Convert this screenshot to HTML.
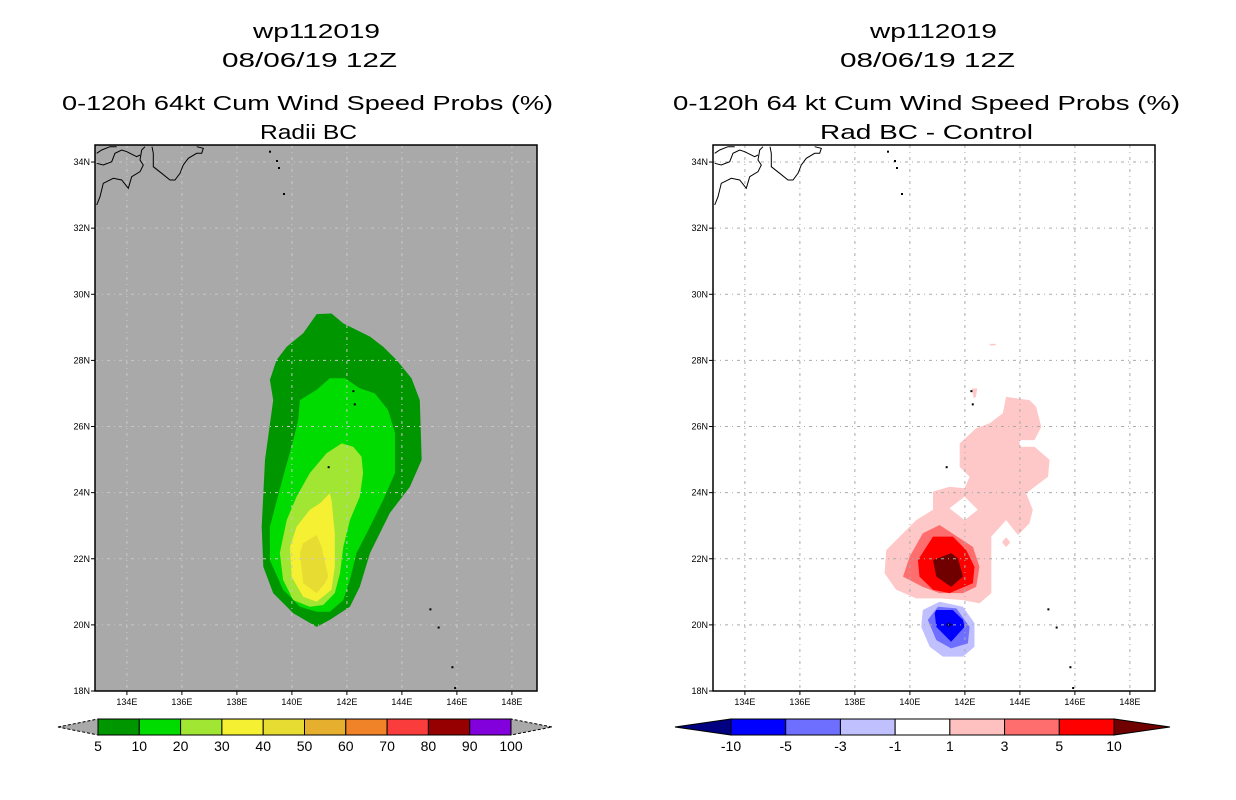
<!DOCTYPE html>
<html><head><meta charset="utf-8"><style>
html,body{margin:0;padding:0;background:#fff;}
svg{display:block;font-family:"Liberation Sans",sans-serif;}
</style></head><body>
<svg id="svg" width="1236" height="800" viewBox="0 0 1236 800" xmlns="http://www.w3.org/2000/svg">
<g font-size="20" fill="#000" text-anchor="start">
<text x="253" y="38" textLength="127" lengthAdjust="spacingAndGlyphs">wp112019</text>
<text x="222" y="67" textLength="175" lengthAdjust="spacingAndGlyphs">08/06/19 12Z</text>
<text x="62" y="110" textLength="491" lengthAdjust="spacingAndGlyphs">0-120h 64kt Cum Wind Speed Probs (%)</text>
<text x="260" y="139" textLength="97" lengthAdjust="spacingAndGlyphs">Radii BC</text>
</g>
<g font-size="20" fill="#000">
<text x="870" y="38" textLength="127" lengthAdjust="spacingAndGlyphs">wp112019</text>
<text x="840" y="67" textLength="175" lengthAdjust="spacingAndGlyphs">08/06/19 12Z</text>
<text x="673" y="110" textLength="507" lengthAdjust="spacingAndGlyphs">0-120h 64 kt Cum Wind Speed Probs (%)</text>
<text x="820" y="139" textLength="213" lengthAdjust="spacingAndGlyphs">Rad BC - Control</text>
</g>
<g id="left"></g>
<g id="right"></g>
<g id="cbl"></g>
<g id="cbr"></g>
</svg>
<script>
// ---- data ----
const lonTicks = [134,136,138,140,142,144,146,148];
const latTicks = [18,20,22,24,26,28,30,32,34];
// left: cumulative probability contours (lon,lat)
const probLevels = [5,10,20,30,40];
const probColors = ["#009600","#00dc00","#a0e632","#f5f032","#e6dc32"];
const prob5 = [[140.90,29.40],[141.44,29.42],[141.87,29.12],[142.84,28.72],[143.32,28.41],[143.81,28.01],[144.35,27.46],[144.65,26.80],[144.72,24.99],[144.29,24.18],[143.56,23.38],[142.84,22.17],[142.47,21.15],[142.11,20.55],[141.38,20.15],[140.90,19.94],[140.05,20.35],[139.32,20.96],[138.96,21.76],[138.90,22.97],[139.02,24.99],[139.32,26.80],[139.20,27.41],[139.44,28.01],[139.81,28.41],[140.41,28.82]];
const prob10 = [[141.38,27.46],[141.93,27.46],[142.47,27.16],[143.02,27.00],[143.50,26.50],[143.75,25.80],[143.75,24.59],[143.32,23.78],[142.84,22.97],[142.35,22.17],[142.11,21.36],[141.87,20.75],[141.38,20.40],[140.90,20.40],[140.29,20.55],[139.68,21.06],[139.20,21.96],[139.20,22.97],[139.68,24.48],[140.05,25.59],[140.23,26.20],[140.29,26.80],[140.90,27.11]];
const prob20 = [[141.81,25.49],[142.23,25.39],[142.53,25.09],[142.59,24.59],[142.47,23.88],[142.11,23.17],[141.87,22.36],[141.75,21.56],[141.56,20.96],[141.14,20.60],[140.65,20.55],[140.05,20.75],[139.68,21.36],[139.56,22.17],[139.81,23.17],[140.17,23.88],[140.65,24.59],[141.26,25.19]];
const prob30 = [[141.38,23.98],[141.44,23.78],[141.56,22.77],[141.56,21.76],[141.44,21.06],[140.90,20.70],[140.41,20.85],[139.99,21.46],[139.93,22.36],[140.17,22.97],[140.65,23.48],[141.02,23.68]];
const prob40 = [[140.90,22.72],[141.08,22.36],[141.32,21.46],[141.20,21.26],[140.90,20.96],[140.41,21.26],[140.29,22.17],[140.41,22.47]];
// right: difference contours
const diffPink = [[143.50,26.90],[144.35,26.80],[144.59,26.60],[144.78,25.99],[144.53,25.59],[143.99,25.59],[143.99,25.39],[144.53,25.39],[145.08,24.99],[145.02,24.48],[144.23,23.98],[144.47,23.48],[144.35,23.07],[143.93,22.72],[143.50,23.17],[142.96,22.67],[142.96,20.96],[142.53,20.65],[141.93,20.75],[141.08,20.80],[140.23,20.80],[139.50,21.06],[139.08,21.56],[139.14,22.26],[139.63,22.67],[140.23,23.17],[140.84,23.48],[140.84,24.03],[141.44,24.18],[141.99,24.13],[142.17,24.48],[141.81,24.78],[141.81,25.49],[142.41,25.95],[142.90,26.10],[143.38,26.40]];
const diffHole = [[141.99,23.88],[142.47,23.48],[141.99,23.17],[141.44,23.53]];
const diffPinkBlob1 = [[142.25,27.15],[142.45,27.15],[142.4,26.9],[142.32,26.85]];
const diffPinkBlob2 = [[143.5,22.65],[143.65,22.5],[143.5,22.35],[143.35,22.5]];
const diffRed3 = [[141.08,23.02],[142.29,22.36],[142.53,21.76],[142.41,21.15],[141.93,20.96],[141.08,20.96],[140.47,21.15],[139.75,21.46],[139.99,22.06],[140.47,22.77]];
const diffRed5 = [[140.84,22.67],[141.56,22.67],[142.05,22.26],[142.35,21.76],[142.29,21.26],[141.44,20.96],[140.84,21.06],[140.35,21.46],[140.29,21.96]];
const diffRed10 = [[140.84,21.96],[141.50,22.17],[141.75,22.01],[141.93,21.46],[141.50,21.15],[140.96,21.46]];
const diffBlue1 = [[141.08,20.70],[141.93,20.55],[142.35,20.05],[142.35,19.34],[141.93,19.04],[141.20,19.04],[140.72,19.34],[140.41,19.94],[140.47,20.45]];
const diffBlue3 = [[141.02,20.55],[141.69,20.50],[142.17,19.94],[142.11,19.44],[141.50,19.29],[140.96,19.54],[140.65,20.15]];
const diffBlue5 = [[140.96,20.45],[141.56,20.45],[141.93,20.15],[141.99,19.94],[141.50,19.49],[140.96,19.94],[140.90,20.35]];
const diffBlue10 = [[141.40,20.08],[141.55,20.0],[141.40,19.92],[141.30,20.0]];
const islands = [[142.2,27.1],[142.25,26.7],[141.3,24.8],[145.0,20.5],[145.3,19.95],[145.8,18.75],[145.9,18.12]];
const leftCbLabels = ["5","10","20","30","40","50","60","70","80","90","100"];
const leftCbColors = ["#009600","#00dc00","#a0e632","#f5f032","#e6dc32","#e6af2d","#f08228","#fa3c3c","#960000","#8200dc"];
const rightCbLabels = ["-10","-5","-3","-1","1","3","5","10"];
const rightCbColors = ["#0000ff","#6e6eff","#c0c0ff","#ffffff","#ffc0c0","#ff6e6e","#ff0000"];

// ---- geometry ----
const NS="http://www.w3.org/2000/svg";
const W=442,H=546;
function xs(lon){return (lon-132.84)*27.5;}
function ys(lat){return H-(lat-18)*33.06;}
function mk(tag,attrs,parent){const e=document.createElementNS(NS,tag);for(const k in attrs)e.setAttribute(k,attrs[k]);parent.appendChild(e);return e;}
function poly(pts,fill,parent,name){
  const e=mk('polygon',{points:pts.map(p=>xs(p[0]).toFixed(1)+','+ys(p[1]).toFixed(1)).join(' '),fill:fill},parent);
  
  
  return e;
}
const coast=["M1.7,60 L5,51.7 L8.3,38.3 L18.3,33.3 L26.7,35 L33.3,43.3 L36.7,31.7 L45,26.7 L48.3,20 L45,15 L46.7,5 L50,1.7",
"M1.7,18.3 L8.3,20 L16.7,16.7 L20,8.3 L26.7,5 L31.7,6.7 L41.7,11.7 L45,10",
"M57,1.7 L58.3,8.3 L58.3,21.7 L66.7,28.3 L75,35 L80,35 L85,28.3 L88.3,20 L93.3,13.3 L101.7,8.3 L106.7,8.3 L108.3,3.3 L101.7,1.7",
"M1.7,8.3 L6.7,5 L15,1.7 L21.7,1.7"];
const coastDots=[[174,5.7],[181,15],[183,22],[188,48]];

function panel(gid,ox,oy,bg,gridColor,fills){
  const g0=document.getElementById(gid);
  const g=mk('g',{transform:`translate(${ox},${oy})`},g0);
  const bgr=mk('rect',{x:0,y:0,width:W,height:H,fill:bg},g);
  
  
  const cg=mk('g',{},g);
  
  
  fills(cg);
  const gg=mk('g',{stroke:gridColor,'stroke-width':1,'stroke-dasharray':'3,4,1,4'},g);
  
  
  lonTicks.forEach(l=>{const x=xs(l);mk('line',{x1:x,y1:0,x2:x,y2:H},gg);});
  latTicks.forEach(l=>{const y=ys(l);if(y>0&&y<H)mk('line',{x1:0,y1:y,x2:W,y2:y},gg);});
  const cs=mk('g',{stroke:'#000','stroke-width':1,fill:'none'},g);
  
  
  coast.forEach(d=>mk('path',{d:d},cs));
  coastDots.forEach(p=>mk('rect',{x:p[0],y:p[1],width:2,height:2,fill:'#000',stroke:'none'},cs));
  islands.forEach(p=>mk('rect',{x:xs(p[0]),y:ys(p[1]),width:2,height:2,fill:'#000',stroke:'none'},cs));
  mk('rect',{x:0,y:0,width:W,height:H,fill:'none',stroke:'#000','stroke-width':1.5},g);
  const tg=mk('g',{'font-size':9,fill:'#000'},g);
  
  
  lonTicks.forEach(l=>{const x=xs(l);mk('line',{x1:x,y1:H,x2:x,y2:H+4,stroke:'#000'},tg);
    const t=mk('text',{x:x,y:H+14,'text-anchor':'middle'},tg);t.textContent=l+'E';});
  latTicks.forEach(l=>{const y=ys(l);mk('line',{x1:-4,y1:y,x2:0,y2:y,stroke:'#000'},tg);
    const t=mk('text',{x:-5,y:y+3,'text-anchor':'end'},tg);t.textContent=l+'N';});
}
panel('left',95,145,'#a9a9a9','#c8c8c8',cg=>{
  [prob5,prob10,prob20,prob30,prob40].forEach((p,i)=>poly(p,probColors[i],cg,'prob-contour-'+probLevels[i]));
});
panel('right',713,145,'#ffffff','#aaaaaa',cg=>{
  poly(diffPink,'#ffc8c8',cg,'diff-contour-1');
  poly(diffHole,'#ffffff',cg,'diff-contour-hole');
  poly(diffPinkBlob1,'#ffc8c8',cg,'diff-contour-blob');
  poly(diffPinkBlob2,'#ffc8c8',cg,'diff-contour-blob');
  mk('rect',{x:xs(142.9),y:ys(28.5),width:6,height:1.5,fill:'#ffc8c8'},cg);
  poly(diffRed3,'#ff6e6e',cg,'diff-contour-3');
  poly(diffRed5,'#ff0000',cg,'diff-contour-5');
  poly(diffRed10,'#700000',cg,'diff-contour-10');
  poly(diffBlue1,'#c0c0ff',cg,'diff-contour-neg1');
  poly(diffBlue3,'#6e6eff',cg,'diff-contour-neg3');
  poly(diffBlue5,'#0000ff',cg,'diff-contour-neg5');
  poly(diffBlue10,'#000080',cg,'diff-contour-neg10');
});

function colorbar(gid,x0,x1,tipL,tipR,colors,labels,triL,triR,dash){
  const g=document.getElementById(gid);
  const y0=719,y1=735,ym=727,n=colors.length,bw=(x1-x0)/n;
  const a=mk('polygon',{points:`${tipL},${ym} ${x0},${y0} ${x0},${y1}`,fill:triL,stroke:'#000','stroke-width':1,'stroke-dasharray':dash},g);
  
  
  const b=mk('polygon',{points:`${tipR},${ym} ${x1},${y0} ${x1},${y1}`,fill:triR,stroke:'#000','stroke-width':1,'stroke-dasharray':dash},g);
  
  
  colors.forEach((c,i)=>{
    const r=mk('rect',{x:x0+i*bw,y:y0,width:bw,height:y1-y0,fill:c,stroke:'#000','stroke-width':1},g);
    
    
  });
  labels.forEach((l,i)=>{
    const t=mk('text',{x:x0+i*bw,y:751,'text-anchor':'middle','font-size':14,fill:'#000'},g);
    
    
    t.textContent=l;
  });
}
colorbar('cbl',98,511,58,552,leftCbColors,leftCbLabels,'#a9a9a9','#a9a9a9','3,2');
colorbar('cbr',731,1114,675,1170,rightCbColors,rightCbLabels,'#000080','#700000','none');
</script>
</body></html>
